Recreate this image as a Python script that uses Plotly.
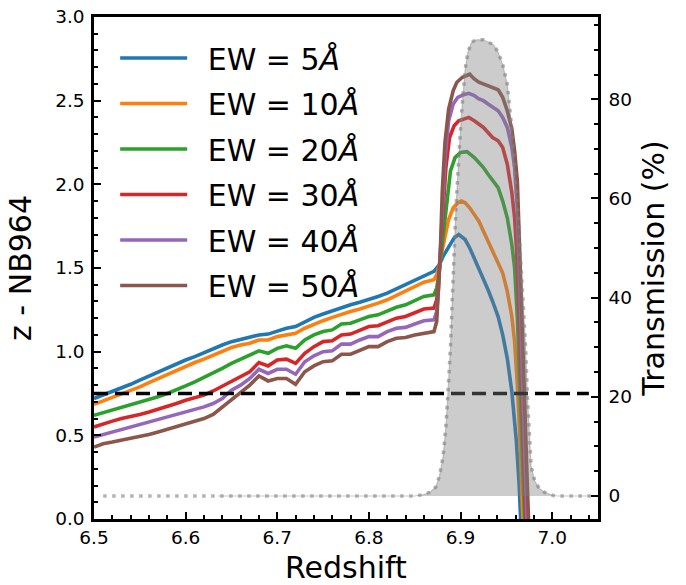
import plotly.graph_objects as go

# ---------------- data ----------------
z_base = [6.50, 6.51, 6.52, 6.53, 6.54, 6.55, 6.56, 6.57, 6.58, 6.59,
          6.60, 6.61, 6.62, 6.63, 6.64, 6.65, 6.66, 6.67, 6.68, 6.69,
          6.70, 6.71, 6.72, 6.73, 6.74, 6.75, 6.76, 6.77, 6.78, 6.79,
          6.80, 6.81, 6.82, 6.83, 6.84, 6.85, 6.86]

ew5_base = [0.72, 0.74, 0.76, 0.785, 0.805, 0.83, 0.855, 0.875, 0.90, 0.925,
            0.95, 0.97, 0.995, 1.02, 1.04, 1.06, 1.075, 1.085, 1.10, 1.105,
            1.125, 1.14, 1.15, 1.18, 1.205, 1.225, 1.245, 1.265, 1.28, 1.295,
            1.31, 1.33, 1.35, 1.375, 1.40, 1.425, 1.455]
ew10_base = [0.685, 0.705, 0.725, 0.745, 0.765, 0.79, 0.815, 0.84, 0.86, 0.885,
             0.91, 0.935, 0.955, 0.98, 1.005, 1.025, 1.04, 1.05, 1.07, 1.07,
             1.09, 1.10, 1.11, 1.14, 1.165, 1.185, 1.205, 1.225, 1.24, 1.255,
             1.27, 1.29, 1.31, 1.335, 1.36, 1.385, 1.415]
ew20_base = [0.62, 0.635, 0.655, 0.67, 0.685, 0.70, 0.715, 0.73, 0.75, 0.77,
             0.795, 0.82, 0.845, 0.87, 0.90, 0.93, 0.955, 0.975, 1.005, 0.99,
             1.02, 1.035, 1.02, 1.07, 1.10, 1.12, 1.13, 1.165, 1.17, 1.19,
             1.21, 1.22, 1.245, 1.265, 1.28, 1.305, 1.33]
ew30_base = [0.55, 0.57, 0.585, 0.60, 0.61, 0.625, 0.64, 0.655, 0.675, 0.69,
             0.71, 0.725, 0.74, 0.765, 0.795, 0.825, 0.855, 0.88, 0.935, 0.915,
             0.95, 0.955, 0.93, 0.99, 1.03, 1.06, 1.065, 1.10, 1.105, 1.13,
             1.15, 1.155, 1.18, 1.20, 1.21, 1.235, 1.255]
ew40_base = [0.49, 0.505, 0.52, 0.535, 0.545, 0.56, 0.575, 0.59, 0.605, 0.62,
             0.64, 0.655, 0.67, 0.69, 0.72, 0.77, 0.80, 0.84, 0.895, 0.87,
             0.895, 0.895, 0.865, 0.94, 0.975, 1.00, 1.005, 1.045, 1.045, 1.07,
             1.09, 1.09, 1.12, 1.14, 1.145, 1.165, 1.185]
ew50_base = [0.43, 0.45, 0.46, 0.47, 0.48, 0.49, 0.505, 0.52, 0.535, 0.55,
             0.565, 0.58, 0.60, 0.625, 0.67, 0.71, 0.76, 0.80, 0.855, 0.825,
             0.84, 0.84, 0.805, 0.88, 0.915, 0.94, 0.945, 0.985, 0.985, 1.01,
             1.03, 1.03, 1.06, 1.08, 1.085, 1.10, 1.11]

ew5_tail_z = [6.871, 6.874, 6.877, 6.881, 6.885, 6.889, 6.893, 6.898, 6.905, 6.910,
              6.915, 6.920, 6.925, 6.930, 6.935, 6.941, 6.946, 6.951, 6.956, 6.961,
              6.964, 6.966, 6.968]
ew5_tail = [1.48, 1.50, 1.52, 1.57, 1.61, 1.65, 1.68, 1.70, 1.67, 1.62,
            1.56, 1.50, 1.44, 1.37, 1.30, 1.21, 1.10, 0.96, 0.76, 0.46,
            0.20, 0.0, -0.3]
ew10_tail_z = [6.871, 6.874, 6.876, 6.879, 6.883, 6.887, 6.892, 6.897, 6.901, 6.905,
               6.910, 6.915, 6.920, 6.925, 6.930, 6.935, 6.941, 6.946, 6.951, 6.956,
               6.959, 6.962, 6.965, 6.968, 6.970]
ew10_tail = [1.43, 1.46, 1.50, 1.58, 1.68, 1.79, 1.86, 1.89, 1.90, 1.89,
             1.86, 1.82, 1.78, 1.72, 1.66, 1.60, 1.54, 1.47, 1.36, 1.21,
             1.06, 0.80, 0.45, 0.05, -0.3]
ew20_tail_z = [6.871, 6.874, 6.876, 6.878, 6.881, 6.885, 6.889, 6.894, 6.900, 6.907,
               6.915, 6.920, 6.925, 6.930, 6.935, 6.941, 6.946, 6.951, 6.956, 6.959,
               6.962, 6.964, 6.966, 6.968, 6.970, 6.972]
ew20_tail = [1.34, 1.38, 1.45, 1.55, 1.72, 1.92, 2.08, 2.16, 2.19, 2.195,
             2.16, 2.13, 2.10, 2.06, 2.02, 1.98, 1.90, 1.80, 1.64, 1.50,
             1.20, 0.85, 0.50, 0.20, -0.05, -0.3]
ew30_tail_z = [6.871, 6.874, 6.876, 6.878, 6.881, 6.884, 6.888, 6.893, 6.898, 6.904,
               6.909, 6.915, 6.920, 6.925, 6.930, 6.935, 6.941, 6.946, 6.951, 6.956,
               6.959, 6.961, 6.963, 6.965, 6.967, 6.969, 6.971, 6.973]
ew30_tail = [1.26, 1.31, 1.42, 1.58, 1.85, 2.10, 2.28, 2.35, 2.38, 2.39,
             2.40, 2.38, 2.36, 2.34, 2.31, 2.28, 2.26, 2.22, 2.12, 1.95,
             1.80, 1.62, 1.35, 1.00, 0.62, 0.25, -0.05, -0.3]
ew40_tail_z = [6.871, 6.874, 6.876, 6.878, 6.880, 6.883, 6.887, 6.892, 6.897, 6.903,
               6.909, 6.915, 6.920, 6.925, 6.930, 6.935, 6.941, 6.946, 6.951, 6.956,
               6.959, 6.962, 6.964, 6.966, 6.968, 6.970, 6.972, 6.974]
ew40_tail = [1.19, 1.24, 1.38, 1.60, 1.85, 2.15, 2.38, 2.48, 2.52, 2.535,
             2.544, 2.53, 2.51, 2.50, 2.48, 2.46, 2.44, 2.40, 2.34, 2.22,
             2.10, 1.85, 1.55, 1.15, 0.75, 0.35, -0.02, -0.3]
ew50_tail_z = [6.871, 6.874, 6.876, 6.878, 6.880, 6.883, 6.887, 6.892, 6.896, 6.902,
               6.910, 6.915, 6.920, 6.925, 6.930, 6.935, 6.941, 6.946, 6.951, 6.956,
               6.959, 6.962, 6.964, 6.966, 6.968, 6.970, 6.972, 6.974, 6.976]
ew50_tail = [1.12, 1.18, 1.35, 1.60, 1.95, 2.25, 2.45, 2.56, 2.61, 2.64,
             2.658, 2.63, 2.61, 2.60, 2.59, 2.575, 2.565, 2.52, 2.44, 2.33,
             2.20, 2.02, 1.72, 1.40, 1.05, 0.70, 0.35, 0.0, -0.3]

# NB964 filter transmission (%)
trans_z = [6.51, 6.55, 6.60, 6.635, 6.70, 6.75, 6.80, 6.84, 6.850, 6.860,
           6.867, 6.873, 6.877, 6.881, 6.884, 6.886, 6.889, 6.891, 6.893, 6.895,
           6.898, 6.901, 6.905, 6.908, 6.912, 6.917, 6.925, 6.930, 6.936, 6.941,
           6.946, 6.951, 6.956, 6.959, 6.964, 6.968, 6.971, 6.973, 6.975, 6.977,
           6.981, 6.986, 6.991, 6.996, 7.001, 7.006, 7.02, 7.045]
trans_pct = [0, 0, 0, 0, 0, 0, 0, 0, 0, 0.3,
             0.8, 1.8, 4, 8, 14, 20, 30, 40, 50, 58,
             68, 77, 86, 89.5, 91.5, 92, 92, 91.5, 91, 89.5,
             87, 83, 74, 66, 53, 40, 30, 20, 12, 6,
             3, 1.5, 0.8, 0.4, 0.1, 0, 0, 0]
fill_start = 6.635

threshold = 0.75
ew_labels = ["EW = 5<i>Å</i>", "EW = 10<i>Å</i>", "EW = 20<i>Å</i>",
             "EW = 30<i>Å</i>", "EW = 40<i>Å</i>", "EW = 50<i>Å</i>"]
colors = ["#1f77b4", "#ff7f0e", "#2ca02c", "#d62728", "#9467bd", "#8c564b"]

series = [
    (ew5_base, ew5_tail_z, ew5_tail),
    (ew10_base, ew10_tail_z, ew10_tail),
    (ew20_base, ew20_tail_z, ew20_tail),
    (ew30_base, ew30_tail_z, ew30_tail),
    (ew40_base, ew40_tail_z, ew40_tail),
    (ew50_base, ew50_tail_z, ew50_tail),
]

FONT = "DejaVu Sans"
fig = go.Figure()

for i, (base, tz, tv) in enumerate(series):
    fig.add_trace(go.Scatter(
        x=z_base + tz, y=base + tv, mode="lines",
        name="\u00a0\u2009" + ew_labels[i], legendgroup=f"g{i}",
        line=dict(color=colors[i], width=3.6),
        xaxis="x", yaxis="y",
    ))

# threshold line
fig.add_trace(go.Scatter(
    x=[6.5, 7.04], y=[threshold, threshold], mode="lines",
    line=dict(color="black", width=3.6, dash="14px,7px"),
    showlegend=False, xaxis="x", yaxis="y",
))

# transmission fill (drawn on the twin axis, above the curves)
fz = [z for z in trans_z if z >= fill_start]
ft = [t for z, t in zip(trans_z, trans_pct) if z >= fill_start]
fig.add_trace(go.Scatter(
    x=fz, y=ft, mode="lines", fill="tozeroy",
    fillcolor="rgba(128,128,128,0.4)",
    line=dict(color="rgba(128,128,128,0.4)", width=1.2),
    showlegend=False, xaxis="x", yaxis="y2",
))
fig.add_trace(go.Scatter(
    x=trans_z, y=trans_pct, mode="lines",
    line=dict(color="rgba(128,128,128,0.6)", width=3.5, dash="3.5px,5.5px"),
    showlegend=False, xaxis="x", yaxis="y2",
))

tickfont = dict(family=FONT, size=18.5, color="black")
axis_common = dict(
    showline=True, linewidth=2.5, linecolor="black",
    ticks="inside", ticklen=7, tickwidth=2, tickcolor="black",
    showgrid=False, zeroline=False, tickfont=tickfont, automargin=False,
)

fig.update_layout(
    width=686, height=585,
    margin=dict(l=94, r=88, t=17, b=66),
    paper_bgcolor="white", plot_bgcolor="white",
    font=dict(family=FONT, color="black"),
    xaxis=dict(
        range=[6.5, 7.05], tick0=6.5, dtick=0.1, tickformat=".1f",
        mirror=True,
        minor=dict(ticks="inside", ticklen=4, tickwidth=1.5, tickcolor="black", dtick=0.02, tick0=6.5),
        title=dict(text="Redshift", font=dict(family=FONT, size=30), standoff=15),
        ticklabelstandoff=0,
        **axis_common,
    ),
    yaxis=dict(
        range=[0, 3.0], tick0=0, dtick=0.5, tickformat=".1f",
        minor=dict(ticks="inside", ticklen=4, tickwidth=1.5, tickcolor="black", dtick=0.1, tick0=0),
        title=dict(text="z - NB964", font=dict(family=FONT, size=30), standoff=15),
        ticklabelstandoff=3,
        **axis_common,
    ),
    yaxis2=dict(
        overlaying="y", side="right",
        range=[-4.64, 96.6], tick0=0, dtick=20,
        minor=dict(ticks="inside", ticklen=4, tickwidth=1.5, tickcolor="black", dtick=5, tick0=0),
        title=dict(text="Transmission (%)", font=dict(family=FONT, size=30), standoff=13),
        ticklabelstandoff=4,
        **axis_common,
    ),
    legend=dict(
        x=0.042, y=0.97, xanchor="left", yanchor="top",
        bgcolor="rgba(0,0,0,0)", borderwidth=0,
        font=dict(family=FONT, size=30, color="black"),
        itemwidth=67, tracegroupgap=3.5, traceorder="grouped",
    ),
    showlegend=True,
)

fig.write_html("out.html", post_script="document.body.style.margin='0px';",
               config={"displayModeBar": False})
